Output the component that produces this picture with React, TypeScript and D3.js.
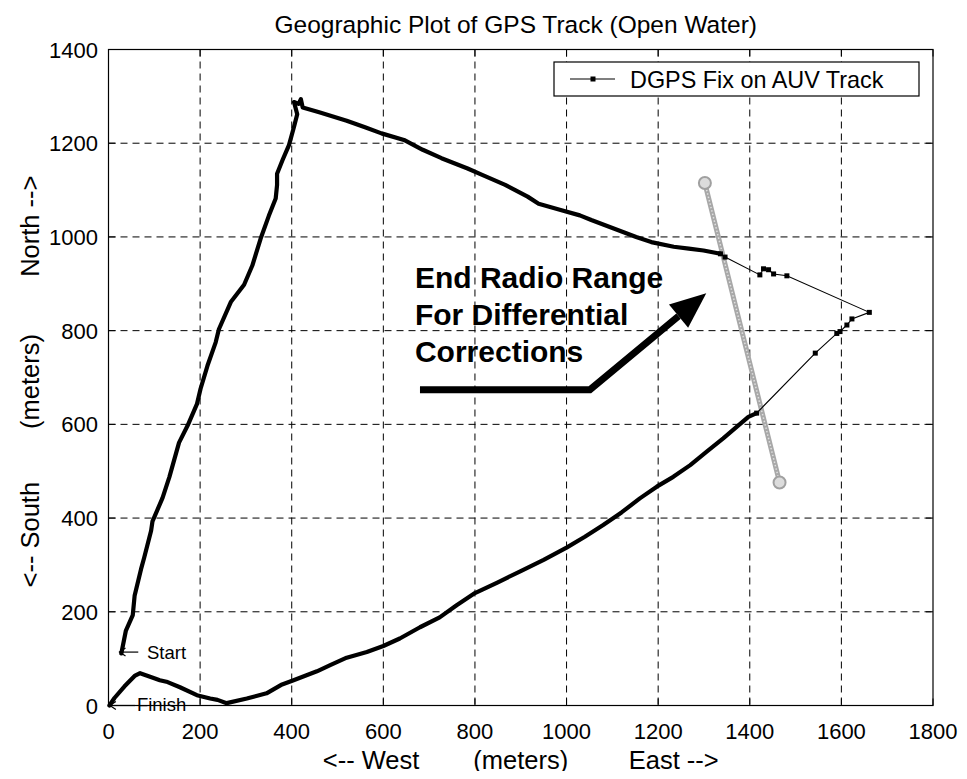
import React from 'react';
import * as d3 from 'd3';

const W = 967;
const H = 779;
const PLOT = { left: 108.5, right: 933, top: 49.5, bottom: 705.5 };

const xTicks = [0, 200, 400, 600, 800, 1000, 1200, 1400, 1600, 1800];
const yTicks = [0, 200, 400, 600, 800, 1000, 1200, 1400];

// Leg A: dense DGPS fixes from Start until radio range is lost
const legAX = [28, 38, 53, 57, 71, 78, 93, 96, 118, 133, 154, 173, 193, 201, 216, 234, 241, 267, 296, 314, 332, 350, 365, 368, 368, 380, 394, 405, 412, 405, 415, 420, 424, 460, 520, 560, 596, 645, 686, 727, 784, 817, 866, 915, 939, 989, 1029, 1054, 1103, 1152, 1185, 1234, 1267, 1299, 1336];
const legAY = [111, 160, 193, 234, 291, 316, 373, 393, 443, 488, 561, 598, 643, 676, 725, 775, 803, 861, 898, 939, 996, 1045, 1082, 1111, 1135, 1164, 1196, 1235, 1262, 1288, 1284, 1294, 1276, 1266, 1248, 1234, 1221, 1207, 1186, 1168, 1146, 1132, 1111, 1086, 1071, 1057, 1046, 1036, 1018, 1000, 989, 979, 975, 971, 964];

// Leg B: sparse fixes outside differential range
const legBX = [1336, 1346, 1422, 1430, 1441, 1452, 1481, 1661, 1623, 1612, 1597, 1590, 1543, 1415];
const legBY = [964, 957, 919, 932, 930, 921, 917, 839, 825, 812, 798, 794, 752, 624];

// Leg C: dense fixes from regaining range to Finish
const legCX = [1415, 1397, 1372, 1342, 1306, 1270, 1233, 1197, 1160, 1120, 1080, 1040, 1000, 950, 900, 850, 800, 760, 723, 680, 636, 600, 564, 520, 484, 455, 404, 379, 345, 302, 258, 238, 222, 193, 156, 129, 112, 100, 69, 57, 35, 13, 2];
const legCY = [624, 616, 595, 570, 542, 513, 488, 467, 442, 412, 385, 360, 337, 311, 287, 263, 240, 214, 188, 167, 143, 127, 114, 102, 86, 73, 54, 45, 26, 15, 5, 12, 15, 22, 39, 50, 54, 58, 69, 63, 41, 16, 0];

// Radio range boundary line (grey)
const rangeX = [1302, 1465];
const rangeY = [1115, 476];

const annotationLines = ['End Radio Range', 'For Differential', 'Corrections'];
const xLabelParts = ['<-- West', '(meters)', 'East -->'];
const yLabelParts = ['<-- South', '(meters)', 'North -->'];
const FONT = "'Liberation Sans', Arial, Helvetica, sans-serif";

export default function App() {
  const x = d3.scaleLinear().domain([0, 1800]).range([PLOT.left, PLOT.right]);
  const y = d3.scaleLinear().domain([0, 1400]).range([PLOT.bottom, PLOT.top]);

  const toPts = (xs: number[], ys: number[]) => xs.map((v, i) => [v, ys[i]] as [number, number]);
  const line = d3.line<[number, number]>().x(d => x(d[0])).y(d => y(d[1]));

  const legA = toPts(legAX, legAY);
  const legB = toPts(legBX, legBY);
  const legC = toPts(legCX, legCY);
  const range = toPts(rangeX, rangeY);

  const tickLen = 7;

  // annotation arrow geometry (data coords)
  const aStart: [number, number] = [680, 674];
  const aBend: [number, number] = [1051, 674];
  const aTip: [number, number] = [1305, 880];
  const bx = x(aBend[0]), by = y(aBend[1]);
  const tx = x(aTip[0]), ty = y(aTip[1]);
  const len = Math.hypot(tx - bx, ty - by);
  const ux = (tx - bx) / len, uy = (ty - by) / len;
  const headLen = 36, headW = 15;
  const hbx = tx - ux * headLen, hby = ty - uy * headLen;
  const headPts = [
    [tx, ty],
    [hbx - uy * headW, hby + ux * headW],
    [hbx + uy * headW, hby - ux * headW],
  ].map(p => p.join(',')).join(' ');

  const smallArrow = (x1: number, x2: number, yy: number) => {
    const X1 = x(x1), X2 = x(x2), Y = y(yy);
    return (
      <g stroke="#000" strokeWidth={1.2} fill="none">
        <line x1={X1} y1={Y} x2={X2} y2={Y} />
        <polyline points={`${X2 + 6},${Y - 4} ${X2},${Y} ${X2 + 6},${Y + 4}`} />
      </g>
    );
  };

  const cx = (PLOT.left + PLOT.right) / 2;
  const cy = (PLOT.top + PLOT.bottom) / 2;
  const xLabW = 396;
  const yLabW = 412;
  const anchors = ['start', 'middle', 'end'] as const;

  return (
    <svg width={W} height={H} style={{ display: 'block', margin: '-8px', background: '#fff' }} fontFamily={FONT}>
      <rect x={0} y={0} width={W} height={H} fill="#fff" />
      {/* grid */}
      <g stroke="#000" strokeWidth={1} strokeDasharray="7,5">
        {xTicks.slice(1, -1).map(t => (
          <line key={'gx' + t} x1={x(t)} x2={x(t)} y1={PLOT.top} y2={PLOT.bottom} />
        ))}
        {yTicks.slice(1, -1).map(t => (
          <line key={'gy' + t} x1={PLOT.left} x2={PLOT.right} y1={y(t)} y2={y(t)} />
        ))}
      </g>
      {/* ticks */}
      <g stroke="#000" strokeWidth={1}>
        {xTicks.map(t => (
          <g key={'tx' + t}>
            <line x1={x(t)} x2={x(t)} y1={PLOT.bottom} y2={PLOT.bottom - tickLen} />
            <line x1={x(t)} x2={x(t)} y1={PLOT.top} y2={PLOT.top + tickLen} />
          </g>
        ))}
        {yTicks.map(t => (
          <g key={'ty' + t}>
            <line x1={PLOT.left} x2={PLOT.left + tickLen} y1={y(t)} y2={y(t)} />
            <line x1={PLOT.right} x2={PLOT.right - tickLen} y1={y(t)} y2={y(t)} />
          </g>
        ))}
      </g>

      {/* range line */}
      <path d={line(range) || ''} stroke="#a8a8a8" strokeWidth={5} fill="none" />
      <path d={line(range) || ''} stroke="#e0e0e0" strokeWidth={1.5} fill="none" strokeDasharray="1.5,2" />
      {range.map((p, i) => (
        <circle key={'rc' + i} cx={x(p[0])} cy={y(p[1])} r={6} fill="#dcdcdc" stroke="#a0a0a0" strokeWidth={2} />
      ))}

      {/* track */}
      <path d={line(legB) || ''} stroke="#000" strokeWidth={1.1} fill="none" />
      {legB.map((p, i) => (
        <rect key={'mb' + i} x={x(p[0]) - 2.5} y={y(p[1]) - 2.5} width={5} height={5} fill="#000" />
      ))}
      <path d={line(legA) || ''} stroke="#000" strokeWidth={4.2} fill="none" strokeLinejoin="round" strokeLinecap="round" />
      <path d={line(legC) || ''} stroke="#000" strokeWidth={4.2} fill="none" strokeLinejoin="round" strokeLinecap="round" />

      {/* annotation */}
      <g fontWeight="bold" fontSize={30} fill="#000">
        {annotationLines.map((s, i) => (
          <text key={s} x={x(669)} y={y(891) + i * 37}>{s}</text>
        ))}
      </g>
      <polyline
        points={`${x(aStart[0])},${y(aStart[1])} ${bx},${by} ${hbx},${hby}`}
        stroke="#000" strokeWidth={7} fill="none" strokeLinejoin="miter"
      />
      <polygon points={headPts} fill="#000" />

      {/* Start / Finish */}
      {smallArrow(65, 24, 114)}
      <text x={x(84)} y={y(99)} fontSize={18.5}>Start</text>
      {smallArrow(58, 3, 0)}
      <text x={x(62)} y={y(-12)} fontSize={18.5}>Finish</text>

      {/* axes box */}
      <rect x={PLOT.left} y={PLOT.top} width={PLOT.right - PLOT.left} height={PLOT.bottom - PLOT.top} fill="none" stroke="#000" strokeWidth={1.2} />

      {/* legend */}
      <g>
        <rect x={554} y={62} width={365} height={34} fill="#fff" stroke="#000" strokeWidth={1.2} />
        <line x1={570} x2={615} y1={79} y2={79} stroke="#000" strokeWidth={1.2} />
        <rect x={590.5} y={76.5} width={5} height={5} fill="#000" />
        <text x={630} y={87.5} fontSize={23.4}>DGPS Fix on AUV Track</text>
      </g>

      {/* tick labels */}
      <g fontSize={22} fill="#000">
        {xTicks.map(t => (
          <text key={'xl' + t} x={x(t)} y={739} textAnchor="middle">{t}</text>
        ))}
        {yTicks.map(t => (
          <text key={'yl' + t} x={98} y={y(t) + 8} textAnchor="end">{t}</text>
        ))}
      </g>

      {/* titles */}
      <text x={cx - 5} y={33} textAnchor="middle" fontSize={24.5}>Geographic Plot of GPS Track (Open Water)</text>
      <g fontSize={25.5}>
        {xLabelParts.map((s, i) => (
          <text key={'xlab' + i} x={cx + (i - 1) * xLabW / 2} y={769} textAnchor={anchors[i]}>{s}</text>
        ))}
      </g>
      <g fontSize={25.5} transform={`translate(39,${cy + 4}) rotate(-90)`}>
        {yLabelParts.map((s, i) => (
          <text key={'ylab' + i} x={(i - 1) * yLabW / 2} y={0} textAnchor={anchors[i]}>{s}</text>
        ))}
      </g>
    </svg>
  );
}
